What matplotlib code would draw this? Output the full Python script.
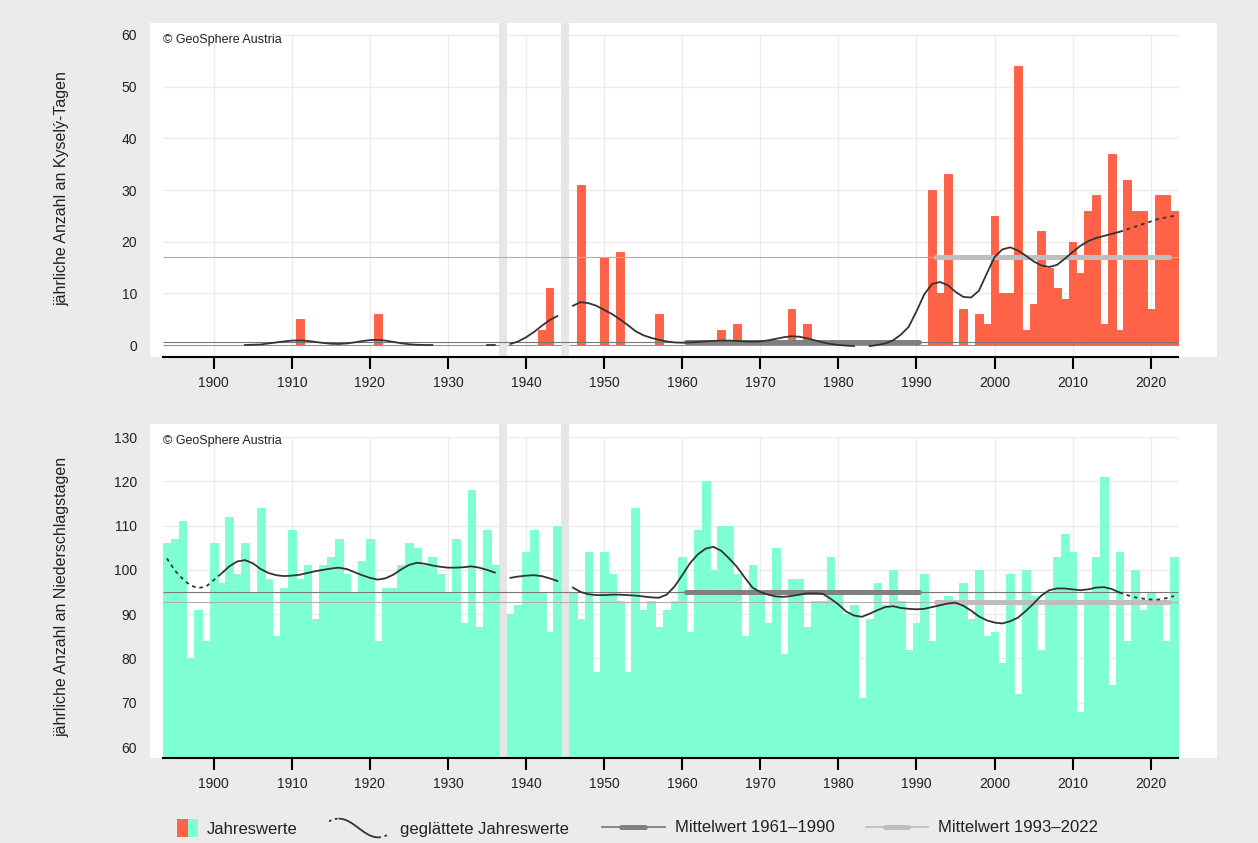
import numpy as np
import matplotlib.pyplot as plt
from matplotlib.legend_handler import HandlerBase, HandlerTuple
from matplotlib.lines import Line2D
from matplotlib.patches import Patch

plt.rcParams["font.family"] = ["Liberation Sans", "DejaVu Sans"]

nan = np.nan
years = np.arange(1894, 2024)
missing_years = [1937, 1945]
decades = np.arange(1900, 2021, 10)
ref_period = (1961, 1990)
recent_period = (1993, 2022)

# Kyselý-Tage pro Jahr (1894-2023)
kysely_days = np.array([
    0, 0, 0, 0, 0, 0,
    0, 0, 0, 0, 0, 0, 0, 0, 0, 0,
    0, 5, 0, 0, 0, 0, 0, 0, 0, 0,
    0, 6, 0, 0, 0, 0, 0, 0, 0, 0,
    0, 0, 0, 0, 0, 0, 0, nan, 0, 0,
    0, 0, 3, 11, 0, nan, 0, 31, 0, 0,
    17, 0, 18, 0, 0, 0, 0, 6, 0, 0,
    0, 0, 0, 0, 0, 3, 0, 4, 0, 0,
    0, 0, 0, 0, 7, 0, 4, 0, 0, 0,
    0, 0, 0, 0, 0, 0, 0, 0, 0, 0,
    0, 0, 30, 10, 33, 0, 7, 0, 6, 4,
    25, 10, 10, 54, 3, 8, 22, 15, 11, 9,
    20, 14, 26, 29, 4, 37, 3, 32, 26, 26,
    7, 29, 29, 26,
])

kysely_smooth = np.array([
    nan, nan, nan, nan, nan, nan,
    nan, nan, nan, nan, 0.0, 0.05, 0.1, 0.3, 0.5, 0.7,
    0.85, 0.9, 0.8, 0.6, 0.4, 0.25, 0.2, 0.3, 0.5, 0.75,
    0.95, 1.0, 0.85, 0.6, 0.35, 0.15, 0.05, 0.0, 0.0, nan,
    nan, nan, nan, nan, nan, 0.0, 0.0, nan, 0.2, 0.7,
    1.5, 2.5, 3.7, 4.8, 5.6, nan, 7.6, 8.3, 8.1, 7.6,
    6.8, 6.0, 5.0, 3.9, 2.7, 1.9, 1.4, 1.0, 0.7, 0.5,
    0.45, 0.5, 0.6, 0.7, 0.8, 0.85, 0.85, 0.8, 0.7, 0.65,
    0.7, 0.9, 1.2, 1.5, 1.7, 1.6, 1.3, 0.9, 0.5, 0.2,
    0.0, -0.1, -0.2, nan, -0.2, 0.0, 0.3, 0.9, 2.0, 3.5,
    6.5, 9.8, 11.8, 12.2, 11.6, 10.3, 9.3, 9.2, 10.5, 13.8,
    17.0, 18.5, 18.9, 18.3, 17.3, 16.2, 15.4, 15.1, 15.5, 16.7,
    18.0, 19.2, 20.1, 20.7, 21.1, 21.5, 21.9, 22.4, 22.9, 23.4,
    23.9, 24.4, 24.7, 25.0,
])

# Niederschlagstage pro Jahr (1894-2023)
precip_days = np.array([
    106, 107, 111, 80, 91, 84,
    106, 97, 112, 99, 106, 95, 114, 98, 85, 96,
    109, 98, 101, 89, 101, 103, 107, 99, 95, 102,
    107, 84, 96, 96, 101, 106, 105, 101, 103, 99,
    95, 107, 88, 118, 87, 109, 101, nan, 90, 92,
    104, 109, 95, 86, 110, nan, 95, 89, 104, 77,
    104, 99, 93, 77, 114, 91, 93, 87, 91, 93,
    103, 86, 109, 120, 100, 110, 110, 99, 85, 101,
    95, 88, 105, 81, 98, 98, 87, 93, 93, 103,
    95, 90, 92, 71, 89, 97, 92, 100, 93, 82,
    88, 99, 84, 93, 94, 93, 97, 89, 100, 85,
    86, 79, 99, 72, 100, 94, 82, 95, 103, 108,
    104, 68, 95, 103, 121, 74, 104, 84, 100, 91,
    95, 93, 84, 103,
])

precip_smooth = np.array([
    102.6, 99.9, 98.0, 96.5, 95.9, 96.2,
    97.7, 99.2, 100.8, 101.9, 102.2, 101.5, 100.2, 99.3, 98.8, 98.6,
    98.7, 98.9, 99.3, 99.7, 100.0, 100.3, 100.5, 100.2, 99.5, 98.8,
    98.2, 97.8, 98.1, 98.9, 100.1, 101.1, 101.6, 101.4, 101.0, 100.7,
    100.5, 100.5, 100.6, 100.8, 100.5, 100.0, 99.4, nan, 98.2, 98.5,
    98.7, 98.8, 98.6, 98.1, 97.5, nan, 96.0, 95.0, 94.5, 94.3,
    94.3, 94.4, 94.4, 94.3, 94.2, 94.0, 93.8, 93.7, 94.4, 96.2,
    98.8, 101.5, 103.5, 104.8, 105.2, 104.3, 102.6, 100.7, 98.3, 96.0,
    95.0, 94.4, 94.0, 93.9, 94.1, 94.4, 94.7, 94.7, 94.6, 93.5,
    92.2, 90.6, 89.7, 89.4, 90.1, 90.9, 91.6, 91.8, 91.4, 91.2,
    91.1, 91.2, 91.6, 92.0, 92.4, 92.6, 91.9, 90.8, 89.5, 88.6,
    88.1, 87.9, 88.4, 89.2, 90.7, 92.4, 94.2, 95.4, 95.8, 95.8,
    95.6, 95.4, 95.6, 96.0, 96.1, 95.7, 94.9, 94.3, 93.8, 93.5,
    93.3, 93.3, 93.6, 94.1,
])

KYSELY_COLOR = "#ff6347"
PRECIP_COLOR = "#7fffd4"
SMOOTH_COLOR = "#333333"
REF_COLOR = "#808080"
RECENT_COLOR = "#bebebe"
GRID_COLOR = "#ececec"
BAND_COLOR = "#e6e6e6"
BG_COLOR = "#ebebeb"
TEXT_COLOR = "#222222"

W, H = 1258, 843
X_FIRST, X_LAST = years[0] - 0.5, years[-1] + 0.5
PX_PER_YEAR = (1178 - 163) / (X_LAST - X_FIRST)
XLIM = (X_FIRST - 13 / PX_PER_YEAR, X_LAST + 39 / PX_PER_YEAR)
SOLID_FROM, SOLID_TO = 1901, 2016


def fx(x):
    return x / W


def fy(y):
    return 1 - y / H


class HandlerWave(HandlerBase):
    def create_artists(self, legend, orig_handle, xdescent, ydescent,
                       width, height, fontsize, trans):
        t = np.linspace(-0.25, 1.25, 80)
        x = -xdescent + width * (t + 0.25) / 1.5
        y = -ydescent + height * (0.5 + 0.5 * np.cos(np.pi * t))
        mid = (t >= 0) & (t <= 1)
        lw = orig_handle.get_linewidth()
        solid = Line2D(x[mid], y[mid], color=SMOOTH_COLOR, lw=lw, transform=trans)
        left = Line2D(x[t <= 0], y[t <= 0], color=SMOOTH_COLOR, lw=lw,
                      ls=(0, (1.5, 2)), transform=trans)
        right = Line2D(x[t >= 1], y[t >= 1], color=SMOOTH_COLOR, lw=lw,
                       ls=(0, (1.5, 2)), transform=trans)
        return [solid, left, right]


class HandlerMean(HandlerBase):
    def create_artists(self, legend, orig_handle, xdescent, ydescent,
                       width, height, fontsize, trans):
        x0 = -xdescent
        y = -ydescent + height / 2
        c = orig_handle.get_color()
        thin = Line2D([x0, x0 + width], [y, y], color=c, lw=1.3, transform=trans)
        thick = Line2D([x0 + 0.3 * width, x0 + 0.68 * width], [y, y], color=c,
                       lw=3.6, solid_capstyle="round", transform=trans)
        return [thin, thick]


def draw_panel(ax, values, smooth, ylim, yticks, bar_color, base):
    ax.set_facecolor("white")
    ax.set_xlim(*XLIM)
    ax.set_ylim(*ylim)

    ax.vlines(decades, ylim[0], yticks[-1], color=GRID_COLOR, lw=1, zorder=0)
    ax.hlines(yticks, X_FIRST, X_LAST, color=GRID_COLOR, lw=1, zorder=0)
    for yr in missing_years:
        ax.axvspan(yr - 0.5, yr + 0.5, color=BAND_COLOR, lw=0, zorder=1)

    # bars without seams between neighbouring years
    ok = ~np.isnan(values)
    ax.bar(years[ok], values[ok] - base, bottom=base, width=1.0,
           color=bar_color, edgecolor=bar_color, lw=0.7, zorder=2)

    ref = (years >= ref_period[0]) & (years <= ref_period[1])
    rec = (years >= recent_period[0]) & (years <= recent_period[1])
    m_ref = np.nanmean(values[ref])
    m_rec = np.nanmean(values[rec])
    ax.hlines([m_ref], X_FIRST, X_LAST, color="#777777", lw=0.8, zorder=3)
    ax.hlines([m_rec], X_FIRST, X_LAST, color="#b0b0b0", lw=0.8, zorder=3)
    ax.plot([ref_period[0] - 0.5, ref_period[1] + 0.3], [m_ref, m_ref],
            color=REF_COLOR, lw=3.6, solid_capstyle="round", zorder=4)
    ax.plot([recent_period[0] - 0.5, recent_period[1] + 0.3], [m_rec, m_rec],
            color=RECENT_COLOR, lw=3.6, solid_capstyle="round", zorder=4)

    solid = (years >= SOLID_FROM) & (years <= SOLID_TO)
    ax.plot(years, np.where(solid, smooth, nan), color=SMOOTH_COLOR, lw=1.3, zorder=5)
    for part in (years <= SOLID_FROM, years >= SOLID_TO):
        ax.plot(years, np.where(part, smooth, nan), color=SMOOTH_COLOR, lw=1.3,
                ls=(0, (2, 2.2)), zorder=5)

    for side in ("top", "left", "right"):
        ax.spines[side].set_visible(False)
    ax.spines["bottom"].set_bounds(X_FIRST, X_LAST)
    ax.spines["bottom"].set_linewidth(1.5)
    ax.spines["bottom"].set_color("black")

    ax.set_xticks(decades)
    ax.set_xticklabels([str(d) for d in decades])
    ax.set_yticks(yticks)
    ax.tick_params(axis="x", direction="out", length=8.5, width=1.5, color="black",
                   pad=5, labelsize=10, labelcolor=TEXT_COLOR)
    ax.tick_params(axis="y", length=0, pad=9.4, labelsize=10, labelcolor=TEXT_COLOR)
    ax.text(13 / 1067, 0.95, "© GeoSphere Austria", transform=ax.transAxes,
            fontsize=9, color=TEXT_COLOR, va="center", ha="left")


fig = plt.figure(figsize=(W / 100, H / 100), dpi=100, facecolor=BG_COLOR)

ax_top = fig.add_axes([fx(150), fy(357), 1067 / W, 334 / H])
draw_panel(ax_top, kysely_days, kysely_smooth, (-2.32, 62.32), np.arange(0, 61, 10),
           KYSELY_COLOR, 0)

ax_bot = fig.add_axes([fx(150), fy(758), 1067 / W, 334 / H])
draw_panel(ax_bot, precip_days, precip_smooth, (57.52, 132.94), np.arange(60, 131, 10),
           PRECIP_COLOR, 57.52)

fig.text(fx(62), fy(189), "jährliche Anzahl an Kyselý-Tagen", rotation=90,
         ha="center", va="center", fontsize=11.5, color=TEXT_COLOR)
fig.text(fx(62), fy(597), "jährliche Anzahl an Niederschlagstagen", rotation=90,
         ha="center", va="center", fontsize=11.5, color=TEXT_COLOR)

# Legende
leg_kw = dict(frameon=False, fontsize=12, loc="center left", borderpad=0,
              borderaxespad=0, labelcolor=TEXT_COLOR)
em = 12 * 100 / 72

fig.legend(handles=[(Patch(fc=KYSELY_COLOR), Patch(fc=PRECIP_COLOR))],
           labels=["Jahreswerte"],
           handler_map={tuple: HandlerTuple(ndivide=None, pad=0)},
           bbox_to_anchor=(fx(177), fy(828)), handlelength=21 / em,
           handleheight=1.2, handletextpad=9 / em, **leg_kw)

wave = Line2D([], [], color=SMOOTH_COLOR, lw=1.3)
fig.legend(handles=[wave], labels=["geglättete Jahreswerte"],
           handler_map={wave: HandlerWave()},
           bbox_to_anchor=(fx(329), fy(828)), handlelength=59 / em,
           handleheight=1.35, handletextpad=12 / em, **leg_kw)

ref_h = Line2D([], [], color=REF_COLOR)
fig.legend(handles=[ref_h], labels=["Mittelwert 1961–1990"],
           handler_map={ref_h: HandlerMean()},
           bbox_to_anchor=(fx(602), fy(828)), handlelength=63 / em,
           handletextpad=10 / em, **leg_kw)

rec_h = Line2D([], [], color=RECENT_COLOR)
fig.legend(handles=[rec_h], labels=["Mittelwert 1993–2022"],
           handler_map={rec_h: HandlerMean()},
           bbox_to_anchor=(fx(866), fy(828)), handlelength=62 / em,
           handletextpad=10 / em, **leg_kw)

fig.savefig("out.png", dpi=100, facecolor=BG_COLOR)
